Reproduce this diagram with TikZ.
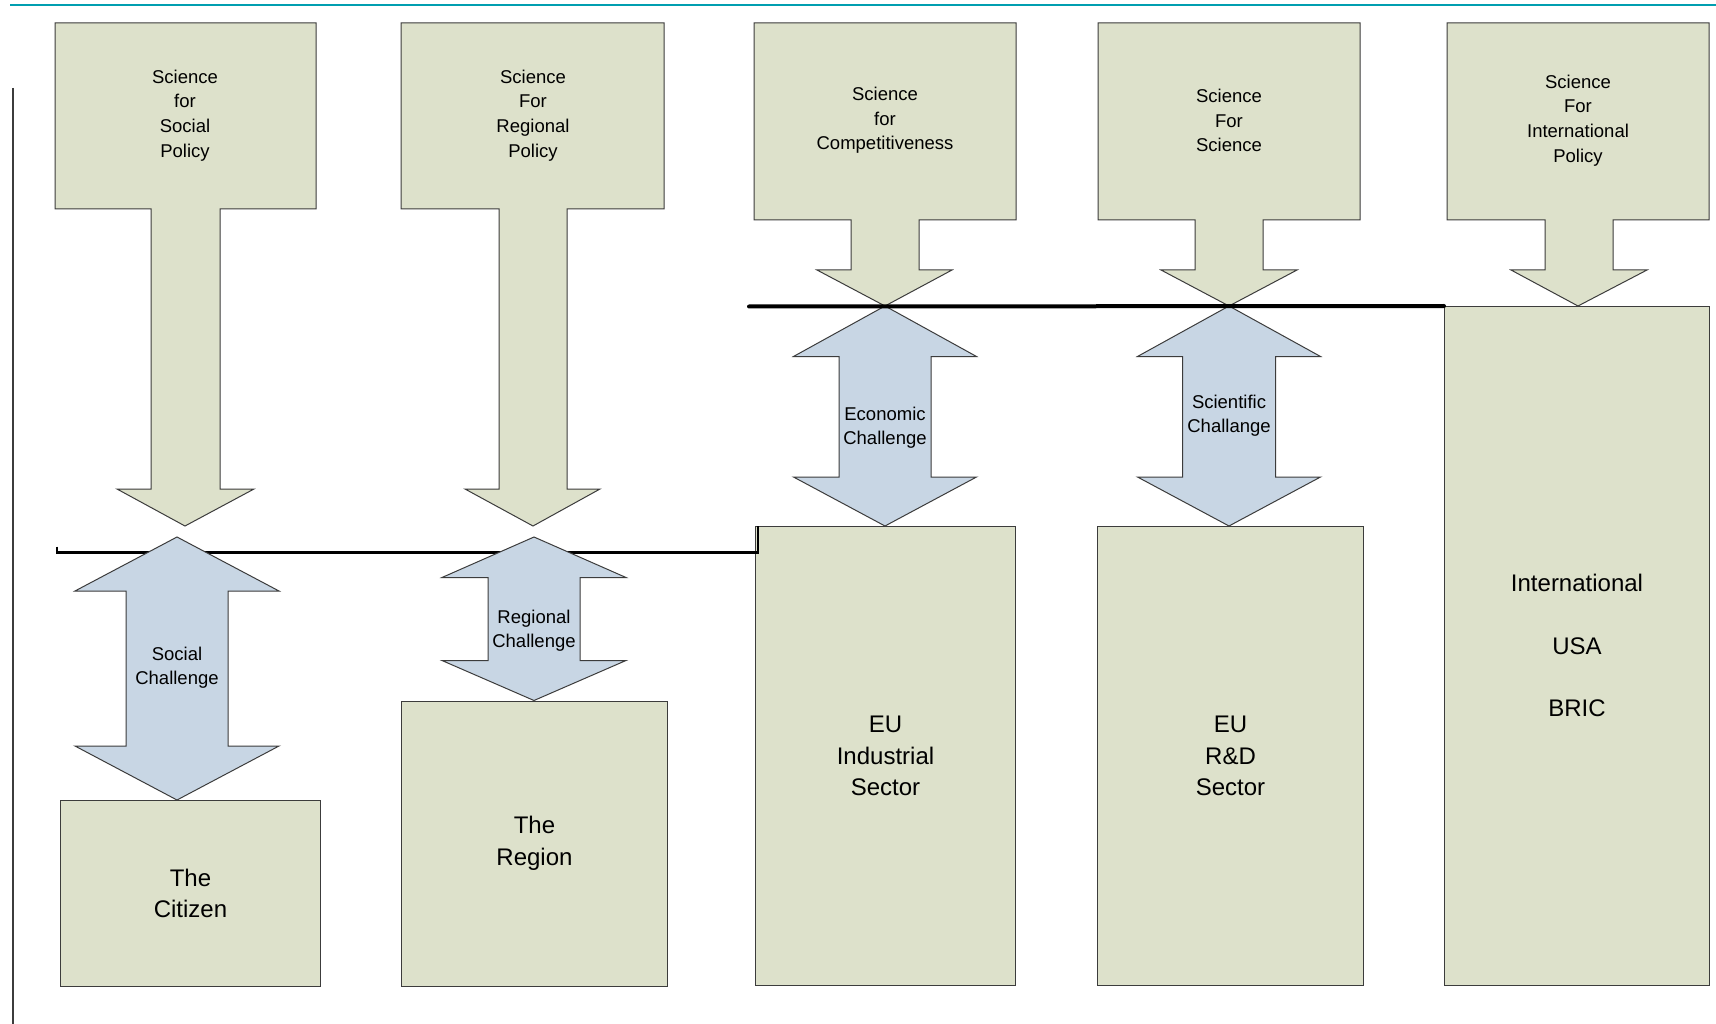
\documentclass[tikz,border=0pt]{standalone}
\usepackage{fontspec}
\setmainfont{Liberation Sans}
\definecolor{boxfill}{RGB}{221,225,203}
\definecolor{arrfill}{RGB}{200,214,228}
\definecolor{edgec}{RGB}{60,60,60}
\definecolor{tealc}{RGB}{0,158,176}
\newcommand{\mydarrow}[7]{%
  \draw[arrst] (#1,#2) -- ({#1+#4},#6) -- ({#1+#5},#6) -- ({#1+#5},#7) -- ({#1+#4},#7) -- (#1,#3)
    -- ({#1-#4},#7) -- ({#1-#5},#7) -- ({#1-#5},#6) -- ({#1-#4},#6) -- cycle;}
\begin{document}
\begin{tikzpicture}[x=1pt,y=-1pt,line join=miter,
  boxst/.style={draw=edgec,fill=boxfill,line width=1pt},
  arrst/.style={draw=edgec,fill=arrfill,line width=1pt},
  tbox/.style={anchor=north west,draw=edgec,fill=boxfill,line width=1pt,inner sep=0pt,align=center,font=\fontsize{24}{31.5}\selectfont},
  ctext/.style={align=center,font=\fontsize{18.5}{24.7}\selectfont,inner sep=0pt},
  ltext/.style={align=center,font=\fontsize{18.5}{24}\selectfont,inner sep=0pt}]
\useasboundingbox (0,0) rectangle (1716,1024);
\fill[white] (0,0) rectangle (1716,1024);
% top teal rule and left rule
\coordinate (tl) at (10,5);
\coordinate (tr) at (1716,5);
\draw[tealc,line width=2.2pt] (tl) -- (tr);
\coordinate (vl1) at (13,88);
\coordinate (vl2) at (13,1024);
\draw[edgec,line width=1.4pt] (vl1) -- (vl2);
% callouts
\draw[boxst] (55,23) -- (316,23) -- (316,209) -- (220,209) -- (220,489) -- (254,489) -- (185,526)
  -- (117,489) -- (151,489) -- (151,209) -- (55,209) -- cycle;
\draw[boxst] (401,23) -- (664,23) -- (664,209) -- (567,209) -- (567,489) -- (600,489) -- (533,526)
  -- (465,489) -- (499,489) -- (499,209) -- (401,209) -- cycle;
\draw[boxst] (754,23) -- (1016,23) -- (1016,220) -- (919,220) -- (919,270) -- (952,270) -- (885,306)
  -- (817,270) -- (851,270) -- (851,220) -- (754,220) -- cycle;
\draw[boxst] (1098,23) -- (1360,23) -- (1360,220) -- (1263,220) -- (1263,270) -- (1297,270) -- (1229,306)
  -- (1161,270) -- (1195,270) -- (1195,220) -- (1098,220) -- cycle;
\draw[boxst] (1447,23) -- (1709,23) -- (1709,220) -- (1613,220) -- (1613,270) -- (1647,270) -- (1578,306)
  -- (1511,270) -- (1545,270) -- (1545,220) -- (1447,220) -- cycle;
\node[ctext] (t1) at (185,115.5) {Science\\for\\Social\\Policy};
\node[ctext] (t2) at (533,115.5) {Science\\For\\Regional\\Policy};
\node[ctext] (t3) at (885,120.5) {Science\\for\\Competitiveness};
\node[ctext] (t4) at (1229,120.5) {Science\\For\\Science};
\node[ctext] (t5) at (1578,120.5) {Science\\For\\International\\Policy};
% bottom boxes
\node[tbox,minimum width=260pt,minimum height=186pt] (citizen) at (60,800) {The\\Citizen};
\node[tbox,minimum width=266pt,minimum height=285pt] (region) at (401,700.5) {The\\Region};
\node[tbox,minimum width=260pt,minimum height=459pt] (industry) at (755,526) {EU\\Industrial\\Sector};
\node[tbox,minimum width=266pt,minimum height=459pt] (rnd) at (1097,526) {EU\\R\&D\\Sector};
\node[tbox,minimum width=265pt,minimum height=678.5pt,font=\fontsize{24}{31.2}\selectfont] (intl) at (1444,306)
  {International\\[31.2pt]USA\\[31.2pt]BRIC};
% lower boundary line
\coordinate (lo0) at (57,546.5);
\coordinate (lo1) at (57,552.5);
\coordinate (lo2) at (758,552.5);
\coordinate (lo3) at (758,526);
\draw[black,line width=2.8pt] (lo0) -- (lo1) -- (lo2) -- (lo3);
% double arrows
\mydarrow{177}{537}{800}{102}{51}{591}{746}
\mydarrow{534}{537}{700.5}{92}{46}{577.5}{660.5}
\mydarrow{885}{306}{526}{91.5}{46}{356.5}{477}
\mydarrow{1229}{306}{526}{91.5}{46.5}{356.5}{477}
\node[ltext] (l1) at (177,668) {Social\\Challenge};
\node[ltext] (l2) at (534,630.5) {Regional\\Challenge};
\node[ltext] (l3) at (885,427.5) {Economic\\Challenge};
\node[ltext] (l4) at (1229,415.5) {Scientific\\Challange};
% upper boundary line
\coordinate (up0) at (749,306.5);
\draw[black,line width=4pt,line cap=round] (up0) -- (intl.north west);
\end{tikzpicture}
\end{document}
